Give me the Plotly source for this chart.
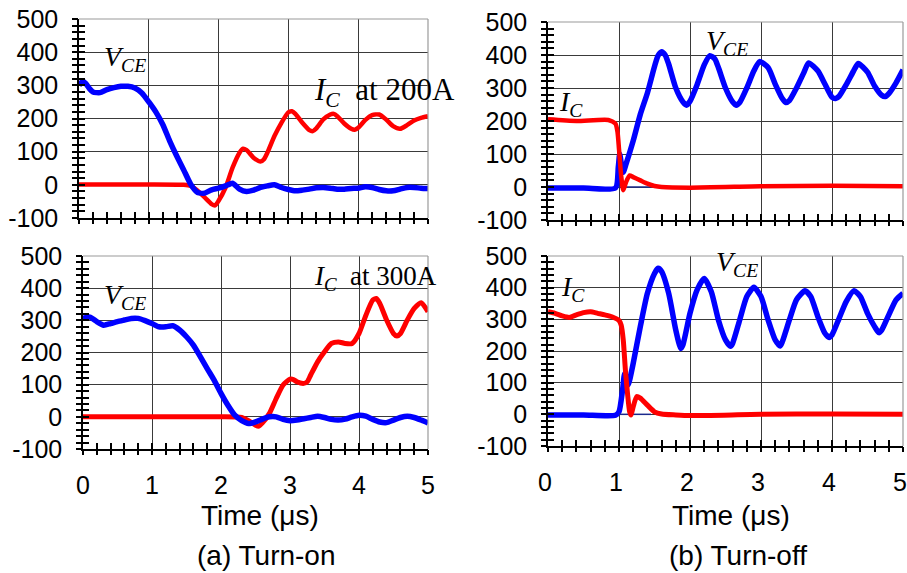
import plotly.graph_objects as go

# ---------------- data ----------------
# (a) Turn-on, IC at 200 A  (top-left)
on200_t_vce = [0, 0.05, 0.1, 0.15, 0.2, 0.3, 0.4, 0.5, 0.6, 0.7, 0.8, 0.9, 1.0, 1.1, 1.2, 1.3, 1.4,
               1.5, 1.6, 1.7, 1.8, 1.9, 2.0, 2.1, 2.2, 2.3, 2.4, 2.5, 2.6, 2.7, 2.8, 2.9, 3.0,
               3.1, 3.2, 3.3, 3.4, 3.5, 3.6, 3.7, 3.8, 3.9, 4.0, 4.1, 4.2, 4.3, 4.4, 4.5, 4.6,
               4.7, 4.8, 4.9, 5.0]
on200_vce = [300, 312, 305, 290, 280, 278, 287, 293, 297, 297, 292, 277, 250, 220, 182, 132, 87,
             45, 2, -23, -25, -15, -10, -3, 5, -13, -20, -16, -8, -3, 0, -8, -14,
             -18, -16, -13, -9, -8, -10, -13, -13, -11, -10, -6, -8, -14, -18, -18, -13,
             -8, -8, -10, -11]
on200_t_ic = [0, 0.5, 1.0, 1.5, 1.6, 1.7, 1.8, 1.9, 1.95, 2.0, 2.1, 2.2, 2.3, 2.35, 2.4, 2.5,
              2.6, 2.65, 2.7, 2.8, 2.9, 3.0, 3.05, 3.1, 3.2, 3.3, 3.35, 3.4, 3.5, 3.6, 3.65,
              3.7, 3.8, 3.9, 3.95, 4.0, 4.1, 4.2, 4.3, 4.4, 4.5, 4.6, 4.7, 4.8, 4.9, 5.0]
on200_ic = [1, 1, 1, 0, -3, -18, -38, -58, -62, -48, -8, 52, 97, 109, 105, 82,
            70, 77, 97, 147, 187, 219, 222, 214, 187, 165, 162, 170, 197, 212, 214,
            207, 185, 169, 166, 172, 195, 210, 212, 197, 177, 169, 180, 194, 202, 207]

# (b) Turn-off, IC at 200 A  (top-right)
off200_t_vce = [0, 0.5, 0.95, 0.99, 1.01, 1.04, 1.06, 1.1, 1.2, 1.3, 1.4, 1.5, 1.55, 1.6, 1.65,
                1.7, 1.8, 1.9, 1.95, 2.0, 2.1, 2.2, 2.28, 2.35, 2.4, 2.5, 2.6, 2.65, 2.7, 2.8,
                2.9, 2.98, 3.1, 3.2, 3.3, 3.35, 3.4, 3.5, 3.6, 3.67, 3.8, 3.9, 4.0, 4.05, 4.1,
                4.2, 4.3, 4.37, 4.5, 4.6, 4.7, 4.75, 4.8, 4.9, 5.0]
off200_vce = [-3, -3, -3, 60, 100, 60, 45, 70, 140, 220, 285, 365, 398, 410, 400,
              372, 300, 258, 248, 260, 310, 370, 398, 388, 362, 300, 258, 248, 256, 300,
              352, 380, 362, 312, 268, 256, 262, 300, 345, 376, 352, 312, 272, 268, 275,
              310, 350, 374, 348, 306, 278, 274, 283, 315, 355]
off200_t_ic = [0, 0.4, 0.85, 0.95, 0.98, 1.0, 1.03, 1.06, 1.1, 1.15, 1.2, 1.3, 1.4, 1.5, 1.6,
               2.0, 3.0, 4.0, 5.0]
off200_ic = [205, 200, 203, 192, 165, 115, 35, -10, 15, 35, 30, 20, 10, 3, 0,
             -2, 2, 4, 2]

# (a) Turn-on, IC at 300 A  (bottom-left)
on300_t_vce = [0, 0.1, 0.2, 0.3, 0.4, 0.5, 0.6, 0.7, 0.8, 0.9, 1.0, 1.1, 1.2, 1.3, 1.4, 1.5,
               1.6, 1.7, 1.8, 1.9, 2.0, 2.1, 2.2, 2.3, 2.4, 2.5, 2.6, 2.7, 2.8, 2.9, 3.0, 3.1,
               3.2, 3.3, 3.4, 3.5, 3.6, 3.7, 3.8, 3.9, 4.0, 4.1, 4.2, 4.3, 4.4, 4.5, 4.6, 4.7,
               4.8, 4.9, 5.0]
on300_vce = [306, 310, 296, 285, 290, 296, 301, 306, 306, 299, 290, 280, 280, 283, 270, 249,
             223, 187, 150, 114, 73, 36, 5, -12, -21, -16, -7, 0, 0, -8, -12, -10,
             -6, -2, 2, -2, -8, -10, -7, 0, 5, 2, -8, -16, -18, -10, -2, 2,
             -2, -10, -19]
on300_t_ic = [0, 0.5, 1.0, 1.5, 2.0, 2.3, 2.4, 2.5, 2.55, 2.6, 2.7, 2.8, 2.9, 3.0, 3.05, 3.1,
              3.2, 3.25, 3.3, 3.4, 3.5, 3.6, 3.7, 3.8, 3.9, 4.0, 4.1, 4.2, 4.25, 4.3, 4.4,
              4.5, 4.55, 4.6, 4.7, 4.8, 4.9, 5.0]
on300_ic = [0, 0, 0, 0, 0, -2, -12, -26, -29, -19, 10, 57, 99, 117, 116, 109,
            104, 109, 130, 171, 202, 228, 233, 228, 228, 259, 316, 363, 368, 353, 301,
            259, 251, 259, 301, 337, 355, 327]

# (b) Turn-off, IC at 300 A  (bottom-right)
off300_t_vce = [0, 0.5, 0.95, 1.0, 1.05, 1.08, 1.1, 1.13, 1.15, 1.2, 1.3, 1.4, 1.5, 1.55, 1.6,
                1.7, 1.8, 1.87, 1.9, 2.0, 2.1, 2.2, 2.3, 2.4, 2.5, 2.57, 2.6, 2.7, 2.8, 2.9,
                3.0, 3.1, 3.2, 3.27, 3.3, 3.4, 3.5, 3.62, 3.7, 3.8, 3.9, 3.96, 4.0, 4.1, 4.2,
                4.31, 4.4, 4.5, 4.6, 4.66, 4.7, 4.8, 4.9, 5.0]
off300_vce = [-2, -2, -3, 8, 77, 129, 119, 93, 108, 161, 277, 382, 445, 461, 451,
              382, 266, 208, 219, 319, 393, 429, 387, 298, 235, 215, 224, 298, 372, 401,
              372, 298, 235, 216, 229, 298, 362, 390, 372, 309, 256, 243, 251, 303, 356,
              390, 372, 319, 277, 258, 266, 314, 361, 382]
off300_t_ic = [0, 0.1, 0.2, 0.3, 0.4, 0.5, 0.6, 0.7, 0.8, 0.9, 1.0, 1.03, 1.06, 1.09, 1.12,
               1.15, 1.17, 1.2, 1.25, 1.3, 1.4, 1.5, 1.6, 1.8, 2.0, 3.0, 4.0, 5.0]
off300_ic = [324, 319, 311, 306, 314, 321, 324, 319, 314, 308, 296, 282, 235, 140, 66,
             8, -2, 24, 56, 51, 29, 8, 1, -2, -4, 0, 1, 0]

# thin reference trace on the turn-off screens
ref_t = [1.0, 1.45]
ref_v = [0, 0]

x_ticks = [0, 1, 2, 3, 4, 5]
x_tick_labels = ["0", "1", "2", "3", "4", "5"]
y_ticks = [-100, 0, 100, 200, 300, 400, 500]
y_tick_labels = ["-100", "0", "100", "200", "300", "400", "500"]

# ---------------- figure ----------------
W, H = 907, 573
BLUE = "#0000ff"
RED = "#ff0000"
NAVY = "#1c2a8c"

def fx(px):
    return px / W

def fy(py):
    return 1 - py / H

# pixel boxes: (left, right, top, bottom)
boxes = {
    1: (79, 428, 19, 218),
    2: (548, 903, 22, 220),
    3: (83, 428, 256, 449),
    4: (548, 903, 256, 446),
}

fig = go.Figure()

def add_line(n, t, v, color, width):
    xa = "x" if n == 1 else f"x{n}"
    ya = "y" if n == 1 else f"y{n}"
    fig.add_trace(go.Scatter(x=t, y=v, mode="lines", xaxis=xa, yaxis=ya,
                             line=dict(color=color, width=width, shape="spline", smoothing=0.6),
                             showlegend=False, hoverinfo="skip"))

# turn-on: red first, blue on top
add_line(1, on200_t_ic, on200_ic, RED, 4.5)
add_line(1, on200_t_vce, on200_vce, BLUE, 5.5)
add_line(3, on300_t_ic, on300_ic, RED, 5)
add_line(3, on300_t_vce, on300_vce, BLUE, 5.5)
# turn-off: blue first, red on top
add_line(2, off200_t_vce, off200_vce, BLUE, 5.5)
add_line(2, ref_t, ref_v, NAVY, 1.5)
add_line(2, off200_t_ic, off200_ic, RED, 4.5)
add_line(4, off300_t_vce, off300_vce, BLUE, 5.5)
add_line(4, ref_t, ref_v, NAVY, 1.5)
add_line(4, off300_t_ic, off300_ic, RED, 5)

tick_font = dict(family="Liberation Sans, Arial, sans-serif", size=25, color="#000")
layout = dict(width=W, height=H, margin=dict(l=0, r=0, t=0, b=0, autoexpand=False),
              paper_bgcolor="white", plot_bgcolor="white", showlegend=False)

shapes = []
for n, (l, r, t, b) in boxes.items():
    sx = "" if n == 1 else str(n)
    bottom_row = n in (3, 4)
    xd = [fx(l), fx(r)]
    yd = [fy(b), fy(t)]
    common_x = dict(range=[0, 5], tickvals=x_ticks, ticktext=x_tick_labels, showgrid=True,
                    gridcolor="#3a3a3a", gridwidth=1, zeroline=False, fixedrange=True,
                    automargin=False)
    common_y = dict(range=[-100, 500], tickvals=y_ticks, ticktext=y_tick_labels, showgrid=True,
                    gridcolor="#3a3a3a", gridwidth=1, zeroline=False, fixedrange=True,
                    automargin=False)
    layout[f"xaxis{sx}"] = dict(
        domain=xd, anchor=f"y{sx}", **common_x,
        showline=True, linecolor="#000", linewidth=1.5,
        ticks="inside", ticklen=6, tickwidth=1.5, tickcolor="#000",
        minor=dict(dtick=0.2, ticks="inside", ticklen=6, tickwidth=1.5, tickcolor="#000",
                   showgrid=False),
        showticklabels=bottom_row, tickfont=tick_font, ticklabelstandoff=13,
        ticklabelshift=(-3 if n == 4 else 0),
    )
    layout[f"yaxis{sx}"] = dict(
        domain=yd, anchor=f"x{sx}", **common_y,
        showline=True, linecolor="#000", linewidth=1.5,
        ticks="inside", ticklen=6, tickwidth=1.5, tickcolor="#000",
        minor=dict(dtick=20, ticks="inside", ticklen=6, tickwidth=1.5, tickcolor="#000",
                   showgrid=False),
        showticklabels=True, tickfont=tick_font, ticklabelstandoff=14,
    )
    # overlay axes giving the outer half of the crossing ticks
    ox = n + 4
    layout[f"xaxis{ox}"] = dict(
        domain=xd, anchor=f"y{sx}", overlaying=f"x{sx}", side="bottom",
        range=[0, 5], tickvals=x_ticks, showgrid=False, zeroline=False, showline=False,
        ticks="outside", ticklen=5, tickwidth=1.5, tickcolor="#000",
        minor=dict(dtick=0.2, ticks="outside", ticklen=5, tickwidth=1.5, tickcolor="#000"),
        showticklabels=False, fixedrange=True, automargin=False,
    )
    layout[f"yaxis{ox}"] = dict(
        domain=yd, anchor=f"x{sx}", overlaying=f"y{sx}", side="left",
        range=[-100, 500], tickvals=y_ticks, showgrid=False, zeroline=False, showline=False,
        ticks="outside", ticklen=6, tickwidth=1.5, tickcolor="#000",
        minor=dict(dtick=20, ticks="outside", ticklen=6, tickwidth=1.5, tickcolor="#000"),
        showticklabels=False, fixedrange=True, automargin=False,
    )
    # light grey frame on top and right
    shapes.append(dict(type="line", xref="paper", yref="paper",
                       x0=fx(l), x1=fx(r), y0=fy(t), y1=fy(t),
                       line=dict(color="#9a9a9a", width=1.2)))
    shapes.append(dict(type="line", xref="paper", yref="paper",
                       x0=fx(r), x1=fx(r), y0=fy(b), y1=fy(t),
                       line=dict(color="#9a9a9a", width=1.2)))

layout["shapes"] = shapes

# dummy traces on the overlay axes so they are drawn
for n in range(1, 5):
    fig.add_trace(go.Scatter(x=[None], y=[None], xaxis=f"x{n+4}", yaxis=f"y{n+4}",
                             showlegend=False, hoverinfo="skip"))

serif = "Liberation Serif, Times New Roman, serif"
sans = "Liberation Sans, Arial, sans-serif"

def label(text, px, py, size=28):
    return dict(text=text, x=fx(px), y=fy(py), xref="paper", yref="paper",
                xanchor="left", yanchor="middle", showarrow=False,
                font=dict(family=serif, size=size, color="#000"))

vce = "<i>V<sub>CE</sub></i>"
ic = "<i>I<sub>C</sub></i>"
annotations = [
    label(vce, 102, 58),
    label(ic + "  at 200A", 312, 92, 31),
    label(vce, 704, 43),
    label(ic, 557, 103),
    label(vce, 102, 296),
    label(ic + "  at 300A", 312, 278, 27),
    label(vce, 714, 263),
    label(ic, 559, 288),
    dict(text="Time (μs)", x=fx(260), y=fy(515), xref="paper", yref="paper",
         xanchor="center", yanchor="middle", showarrow=False,
         font=dict(family=sans, size=28, color="#000")),
    dict(text="Time (μs)", x=fx(731), y=fy(515), xref="paper", yref="paper",
         xanchor="center", yanchor="middle", showarrow=False,
         font=dict(family=sans, size=28, color="#000")),
    dict(text="(a) Turn-on", x=fx(266), y=fy(555), xref="paper", yref="paper",
         xanchor="center", yanchor="middle", showarrow=False,
         font=dict(family=sans, size=28, color="#000")),
    dict(text="(b) Turn-off", x=fx(738), y=fy(555), xref="paper", yref="paper",
         xanchor="center", yanchor="middle", showarrow=False,
         font=dict(family=sans, size=28, color="#000")),
]
layout["annotations"] = annotations

fig.update_layout(**layout)
fig.write_html("out.html", config={"displayModeBar": False},
               post_script="document.body.style.margin='0';document.body.style.overflow='hidden';")
